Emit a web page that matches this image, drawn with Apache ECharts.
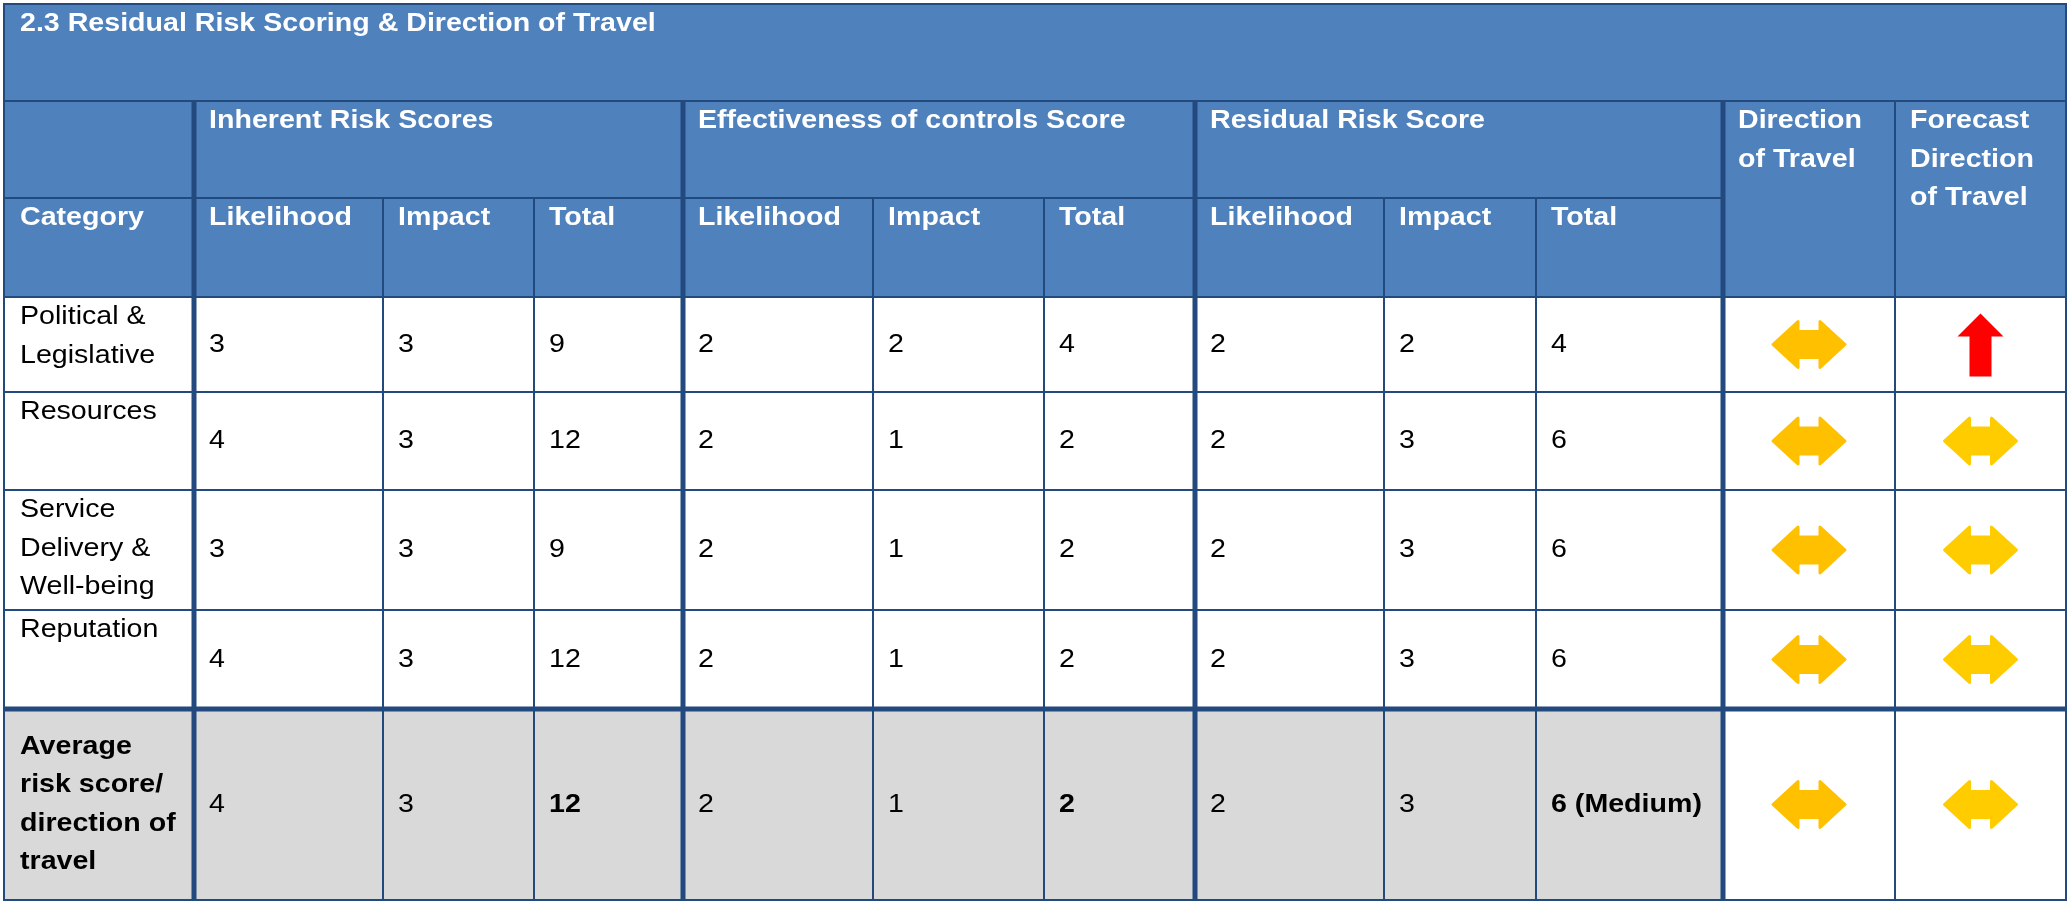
<!DOCTYPE html>
<html>
<head>
<meta charset="utf-8">
<script src="https://cdn.jsdelivr.net/npm/echarts@6/dist/echarts.min.js"></script>
<style>
  html, body { margin: 0; padding: 0; background: #fff; }
  #main { width: 2069px; height: 903px; }
</style>
</head>
<body>
<div id="main"></div>
<script>
// table texts and values
const title = '2.3 Residual Risk Scoring & Direction of Travel';
const groupHeaders = ['Inherent Risk Scores', 'Effectiveness of controls Score', 'Residual Risk Score'];
const subHeaders = ['Likelihood', 'Impact', 'Total'];
const categoryHeader = 'Category';
const directionHeader = 'Direction\nof Travel';
const forecastHeader = 'Forecast\nDirection\nof Travel';

const categories = ['Political &\nLegislative', 'Resources', 'Service\nDelivery &\nWell-being', 'Reputation'];
const inherentLikelihood = [3, 4, 3, 4];
const inherentImpact = [3, 3, 3, 3];
const inherentTotal = [9, 12, 9, 12];
const controlsLikelihood = [2, 2, 2, 2];
const controlsImpact = [2, 1, 1, 1];
const controlsTotal = [4, 2, 2, 2];
const residualLikelihood = [2, 2, 2, 2];
const residualImpact = [2, 3, 3, 3];
const residualTotal = [4, 6, 6, 6];
const directionOfTravel = ['flat', 'flat', 'flat', 'flat'];
const forecastDirection = ['up', 'flat', 'flat', 'flat'];

const averageLabel = 'Average\nrisk score/\ndirection of\ntravel';
const averageScores = [4, 3, 12, 2, 1, 2, 2, 3, '6 (Medium)'];
const averageBold = [false, false, true, false, false, true, false, false, true];
const averageDirection = 'flat';
const averageForecast = 'flat';

// layout (grid units = px inside the grid)
const colEdges = [0, 190, 379, 530, 679, 869, 1040, 1191, 1380, 1532, 1719, 1891, 2062];
const rowEdges = [0, 97, 194, 293, 388, 486, 606, 705, 896];

const BLUE = '#4F81BD';
const GRAY = '#D9D9D9';
const LINE = '#234A7E';
const FONT = "'Liberation Sans', Arial, sans-serif";

const cells = [];
function addCell(c0, c1, r0, r1, opts) {
  cells.push(Object.assign({ c0: c0, c1: c1, r0: r0, r1: r1, fill: '#fff', color: '#000', bold: false, valign: 'top', text: '' }, opts));
}

addCell(0, 12, 0, 1, { text: title, fill: BLUE, color: '#fff', bold: true });
addCell(0, 1, 1, 2, { fill: BLUE });
addCell(0, 1, 2, 3, { text: categoryHeader, fill: BLUE, color: '#fff', bold: true });
groupHeaders.forEach(function (g, gi) {
  addCell(1 + gi * 3, 4 + gi * 3, 1, 2, { text: g, fill: BLUE, color: '#fff', bold: true });
  subHeaders.forEach(function (s, si) {
    addCell(1 + gi * 3 + si, 2 + gi * 3 + si, 2, 3, { text: s, fill: BLUE, color: '#fff', bold: true });
  });
});
addCell(10, 11, 1, 3, { text: directionHeader, fill: BLUE, color: '#fff', bold: true });
addCell(11, 12, 1, 3, { text: forecastHeader, fill: BLUE, color: '#fff', bold: true });

const scoreColumns = [inherentLikelihood, inherentImpact, inherentTotal,
  controlsLikelihood, controlsImpact, controlsTotal,
  residualLikelihood, residualImpact, residualTotal];

categories.forEach(function (cat, i) {
  const r = 3 + i;
  addCell(0, 1, r, r + 1, { text: cat });
  scoreColumns.forEach(function (col, k) {
    addCell(1 + k, 2 + k, r, r + 1, { text: String(col[i]), valign: 'middle' });
  });
  addCell(10, 11, r, r + 1, { arrow: directionOfTravel[i], arrowColor: '#FFC000' });
  addCell(11, 12, r, r + 1, { arrow: forecastDirection[i], arrowColor: '#FFCC00' });
});

addCell(0, 1, 7, 8, { text: averageLabel, fill: GRAY, bold: true, valign: 'middle' });
averageScores.forEach(function (v, k) {
  addCell(1 + k, 2 + k, 7, 8, { text: String(v), fill: GRAY, bold: averageBold[k], valign: 'middle' });
});
addCell(10, 11, 7, 8, { arrow: averageDirection, arrowColor: '#FFC000' });
addCell(11, 12, 7, 8, { arrow: averageForecast, arrowColor: '#FFCC00' });

const cellData = cells.map(function (c) {
  return [colEdges[c.c0], rowEdges[c.r0], colEdges[c.c1], rowEdges[c.r1]];
});

// thick rules
const thickLines = [
  [colEdges[1], rowEdges[1], colEdges[1], rowEdges[8]],
  [colEdges[4], rowEdges[1], colEdges[4], rowEdges[8]],
  [colEdges[7], rowEdges[1], colEdges[7], rowEdges[8]],
  [colEdges[10], rowEdges[1], colEdges[10], rowEdges[8]],
  [colEdges[0], rowEdges[7], colEdges[12], rowEdges[7]]
];

const flatArrow = [[-36, 0], [-11, -23], [-11, -13], [11, -13], [11, -23], [36, 0], [11, 23], [11, 13], [-11, 13], [-11, 23]];
const upArrow = [[0, -31], [23, -8], [11, -8], [11, 32], [-11, 32], [-11, -8], [-23, -8]];

function renderCell(params, api) {
  const c = cells[params.dataIndex];
  const p0 = api.coord([api.value(0), api.value(1)]);
  const p1 = api.coord([api.value(2), api.value(3)]);
  const children = [{
    type: 'rect',
    shape: { x: p0[0], y: p0[1], width: p1[0] - p0[0], height: p1[1] - p0[1] },
    style: { fill: c.fill, stroke: LINE, lineWidth: 2 }
  }];
  if (c.text) {
    const pad = c.c0 === 0 ? 16 : 15;
    const ty = c.valign === 'middle' ? (p0[1] + p1[1]) / 2 : p0[1] + 1;
    children.push({
      type: 'text',
      x: p0[0] + pad,
      y: ty,
      scaleX: 1.1,
      style: {
        text: c.text,
        x: 0,
        y: 0,
        fill: c.color,
        font: (c.bold ? 'bold ' : '') + '26px ' + FONT,
        lineHeight: 38.5,
        align: 'left',
        verticalAlign: c.valign
      }
    });
  }
  if (c.arrow) {
    const cx = (p0[0] + p1[0]) / 2;
    const cy = (p0[1] + p1[1]) / 2;
    const up = c.arrow === 'up';
    children.push({
      type: 'polygon',
      x: cx,
      y: cy,
      shape: { points: up ? upArrow : flatArrow },
      style: up
        ? { fill: '#FF0000' }
        : { fill: c.arrowColor, stroke: c.arrowColor, lineWidth: 3, lineJoin: 'round' }
    });
  }
  return { type: 'group', children: children };
}

function renderLine(params, api) {
  const a = api.coord([api.value(0), api.value(1)]);
  const b = api.coord([api.value(2), api.value(3)]);
  return {
    type: 'line',
    shape: { x1: a[0], y1: a[1], x2: b[0], y2: b[1] },
    style: { stroke: LINE, lineWidth: 5 }
  };
}

const chart = echarts.init(document.getElementById('main'));

const option = {
  animation: false,
  grid: { left: 4, top: 4, right: 3, bottom: 3 },
  xAxis: { type: 'value', min: 0, max: 2062, show: false },
  yAxis: { type: 'value', min: 0, max: 896, inverse: true, show: false },
  series: [
    {
      type: 'custom',
      name: 'cells',
      renderItem: renderCell,
      data: cellData,
      silent: true
    },
    {
      type: 'custom',
      name: 'rules',
      renderItem: renderLine,
      data: thickLines,
      silent: true
    }
  ]
};

chart.setOption(option);
</script>
</body>
</html>
